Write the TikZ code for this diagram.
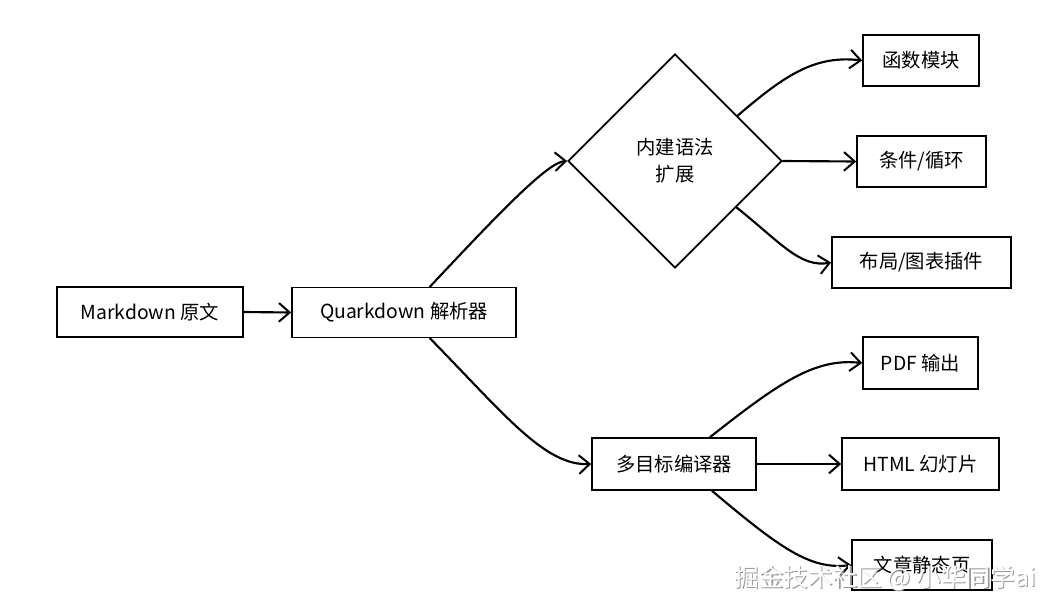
\documentclass[tikz,border=0pt]{standalone}
\usepackage{fontspec}
\setmainfont{Noto Sans CJK SC}
\usetikzlibrary{arrows.meta,shapes.geometric,calc}
\begin{document}
\begin{tikzpicture}[x=0.75pt,y=-0.75pt,
  box/.style={draw=black,line width=1.3pt,minimum height=50*0.75pt,inner sep=0pt,font=\fontsize{14.5}{17}\selectfont},
  dia/.style={draw=black,line width=1.3pt,diamond,aspect=1,minimum width=214*0.75pt,minimum height=214*0.75pt,inner sep=0pt,align=center,font=\fontsize{14.5}{20}\selectfont},
  conn/.style={line width=1.6pt,line cap=round,-{Straight Barb[length=8pt,width=14pt,line width=1.5pt]}},
  wm/.style={font=\fontsize{18.5}{22}\selectfont}
]
\useasboundingbox (0,0) rectangle (1055,610);
\fill[white] (0,0) rectangle (1055,610);

\node[box,minimum width=186*0.75pt] (md) at (150,312) {Markdown 原文};
\node[box,minimum width=224*0.75pt] (q) at (404,312.5) {Quarkdown 解析器};
\node[dia] (d) at (675,161) {内建语法\\扩展};
\node[box,minimum width=164*0.75pt,minimum height=52*0.75pt] (m) at (674,464) {多目标编译器};

\node[box,minimum width=116*0.75pt,minimum height=51*0.75pt] (f) at (921,60.5) {函数模块};
\node[box,minimum width=129*0.75pt,minimum height=51*0.75pt] (c) at (921.5,161.5) {条件/循环};
\node[box,minimum width=179*0.75pt,minimum height=51*0.75pt] (l) at (921.5,262.5) {布局/图表插件};
\node[box,minimum width=115*0.75pt,minimum height=52*0.75pt] (p) at (920.5,363) {PDF 输出};
\node[box,minimum width=157*0.75pt,minimum height=52*0.75pt] (h) at (920.5,464) {HTML 幻灯片};
\node[box,minimum width=140*0.75pt,minimum height=50*0.75pt] (a) at (922,565) {文章静态页};

\draw[conn] (md.east) -- (q.west);
\draw[conn] ($(q.north)+(26,0)$) .. controls (500,212) and (548,162) .. (d.west);
\draw[conn] ($(q.south)+(26,0)$) .. controls (505,415) and (545,466) .. (m.west);

\draw[conn] ($(d.north)!0.58!(d.east)$) .. controls (785,75) and (815,55) .. (f.west);
\draw[conn] (d.east) -- (c.west);
\draw[conn] ($(d.east)!0.43!(d.south)$) .. controls (780,242) and (800,268) .. (l.west);

\draw[conn] ($(m.north)+(36,0)$) .. controls (780,382) and (815,358) .. (p.west);
\draw[conn] (m.east) -- (h.west);
\draw[conn] ($(m.south)+(38,0)$) .. controls (780,548) and (810,570) .. (a.west);

\node[wm,text=black!40] (wm1) at (886.2,579.2) {掘金技术社区 @ 小华同学ai};
\node[wm,text=white] (wm2) at (885,578) {掘金技术社区 @ 小华同学ai};
\end{tikzpicture}
\end{document}
